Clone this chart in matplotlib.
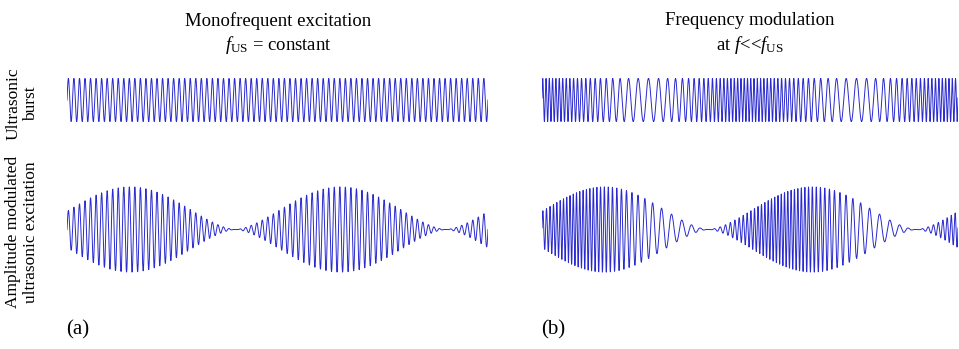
import numpy as np
import matplotlib
matplotlib.use("Agg")
import matplotlib.pyplot as plt

plt.rcParams["font.family"] = ["Liberation Serif", "DejaVu Serif"]
plt.rcParams["mathtext.fontset"] = "custom"
plt.rcParams["mathtext.rm"] = "Liberation Serif"
plt.rcParams["mathtext.it"] = "Liberation Serif:italic"

# --- signal parameters (per panel width) ---
carrier_cycles = 76            # ultrasonic carrier cycles across a panel
am_periods = 2.0               # amplitude-modulation periods across a panel
am_null_a = 0.40               # position of the first envelope null, panel (a)
am_null_b = 0.40               # position of the first envelope null, panel (b)
env_exponent = 1.6             # envelope shape |sin|^p
fm_center_cycles = 84          # mean carrier cycles, FM panel
fm_deviation_cycles = 44       # frequency deviation, FM panel
fm_min_top = 0.25              # position of lowest frequency, FM burst
fm_min_bottom = 0.32           # position of lowest frequency, FM + AM

column_titles = ["Monofrequent excitation\n$f_{\\mathrm{US}}$ = constant",
                 "Frequency modulation\nat $f$<<$f_{\\mathrm{US}}$"]
row_labels = ["Ultrasonic\nburst", "Amplitude modulated\nultrasonic excitation"]
panel_tags = ["(a)", "(b)"]

N = 8000
u = np.linspace(0.0, 1.0, N)


def envelope(u0):
    return np.abs(np.sin(np.pi * am_periods * (u - u0))) ** env_exponent


def fm_phase(umin):
    inst = fm_center_cycles - fm_deviation_cycles * np.cos(2 * np.pi * am_periods * (u - umin))
    return 2 * np.pi * np.cumsum(inst) * (u[1] - u[0])


sig_a_top = np.sin(2 * np.pi * carrier_cycles * u)
sig_a_bot = envelope(am_null_a) * np.sin(2 * np.pi * carrier_cycles * u)
sig_b_top = np.sin(fm_phase(fm_min_top))
sig_b_bot = envelope(am_null_b) * np.sin(fm_phase(fm_min_bottom))

W, H = 959, 349
fig = plt.figure(figsize=(W / 100, H / 100), dpi=100)


def add_axes(x0, x1, y0, y1):
    ax = fig.add_axes([x0 / W, 1 - y1 / H, (x1 - x0) / W, (y1 - y0) / H])
    ax.set_axis_off()
    ax.set_xlim(0, 1)
    ax.set_ylim(-1.02, 1.02)
    return ax


col = "#2a2ad0"
lw = 0.7
for ax, s in [(add_axes(67, 488, 78, 122), sig_a_top),
              (add_axes(67, 488, 186, 273), sig_a_bot),
              (add_axes(542, 958, 78, 122), sig_b_top),
              (add_axes(542, 958, 186, 273), sig_b_bot)]:
    ax.plot(u, s, color=col, lw=lw)

fs = 13.5
fig.text(278 / W, 1 - 34 / H, column_titles[0], ha="center", va="center",
         fontsize=fs, linespacing=1.3)
fig.text(750 / W, 1 - 34 / H, column_titles[1], ha="center", va="center",
         fontsize=fs, linespacing=1.3)
fig.text(22 / W, 1 - 104 / H, row_labels[0], ha="center", va="center",
         rotation=90, fontsize=12.5, linespacing=1.1)
fig.text(22 / W, 1 - 232 / H, row_labels[1], ha="center", va="center",
         rotation=90, fontsize=12.5, linespacing=1.1)
fig.text(78 / W, 1 - 330 / H, panel_tags[0], ha="center", va="center", fontsize=15)
fig.text(553 / W, 1 - 330 / H, panel_tags[1], ha="center", va="center", fontsize=15)

fig.savefig("out.png", dpi=100)
